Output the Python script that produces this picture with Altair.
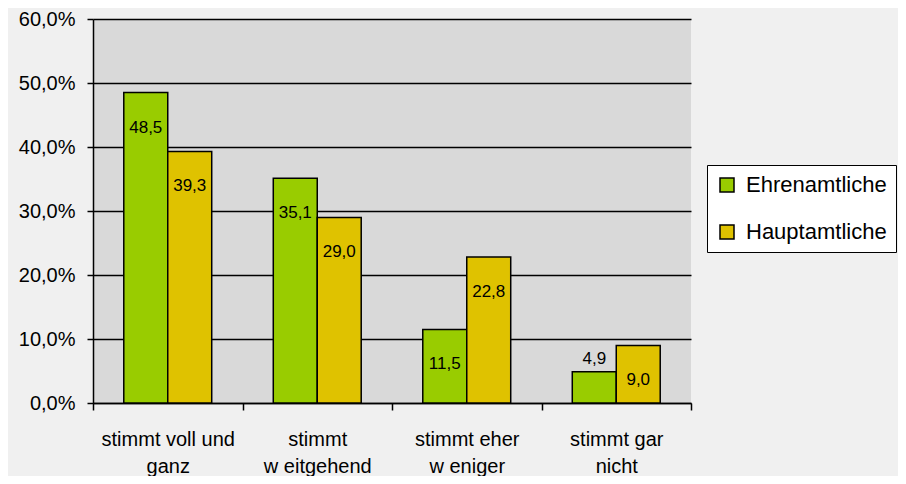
import altair as alt
import pandas as pd

categories = ["stimmt voll und|ganz", "stimmt|w eitgehend", "stimmt eher|w eniger", "stimmt gar|nicht"]
series = ["Ehrenamtliche", "Hauptamtliche"]
ehrenamtliche = [48.5, 35.1, 11.5, 4.9]
hauptamtliche = [39.3, 29.0, 22.8, 9.0]
y_ticks = [0, 10, 20, 30, 40, 50, 60]
colors = ["#99cc00", "#dfc200"]

rows = []
for c, e, h in zip(categories, ehrenamtliche, hauptamtliche):
    rows.append({"cat": c, "series": series[0], "value": e})
    rows.append({"cat": c, "series": series[1], "value": h})
df = pd.DataFrame(rows)

FONT = "Liberation Sans"

base = alt.Chart(df).encode(
    x=alt.X(
        "cat:N",
        sort=categories,
        scale=alt.Scale(paddingInner=0, paddingOuter=0),
        axis=alt.Axis(
            title=None,
            labelExpr="split(datum.label, '|')",
            tickBand="extent",
            tickSize=7,
            tickWidth=1.5,
            tickColor="black",
            domainColor="black",
            domainWidth=1.5,
            labelFont=FONT,
            labelFontSize=20,
            labelColor="black",
            labelPadding=19,
            labelLineHeight=27,
            labelAngle=0,
            grid=False,
        ),
    ),
    xOffset=alt.XOffset(
        "series:N", sort=series, scale=alt.Scale(paddingInner=0, paddingOuter=0.7)
    ),
    y=alt.Y(
        "value:Q",
        scale=alt.Scale(domain=[0, 60], nice=False),
        axis=alt.Axis(
            title=None,
            values=y_ticks,
            labelExpr="replace(format(datum.value, '.1f'), '.', ',') + '%'",
            tickSize=6,
            tickWidth=1.5,
            tickColor="black",
            labelPadding=12,
            grid=True,
            gridColor="black",
            gridWidth=1.5,
            gridOpacity=1,
            domainColor="black",
            domainWidth=1.5,
            labelFont=FONT,
            labelFontSize=20,
            labelColor="black",
        ),
    ),
)

bars = base.mark_bar(stroke="black", strokeWidth=1.5).encode(
    color=alt.Color(
        "series:N",
        scale=alt.Scale(domain=series, range=colors),
        legend=alt.Legend(
            title=None,
            orient="none",
            legendX=614,
            legendY=146,
            fillColor="white",
            strokeColor="black",
            padding=9,
            symbolType="square",
            symbolSize=196,
            symbolStrokeColor="black",
            symbolStrokeWidth=1.5,
            symbolOpacity=1,
            labelFont=FONT,
            labelFontSize=22,
            labelColor="black",
            labelOffset=8,
            rowPadding=25,
        ),
    )
)

label_calc = "replace(format(datum.value, '.1f'), '.', ',')"

inside = base.transform_filter("datum.value >= 5").transform_calculate(
    lab=label_calc
).mark_text(dy=35, font=FONT, fontSize=17, color="black", baseline="middle").encode(
    text="lab:N"
)

outside = base.transform_filter("datum.value < 5").transform_calculate(
    lab=label_calc
).mark_text(dy=-13, font=FONT, fontSize=17, color="black", baseline="middle").encode(
    text="lab:N"
)

chart = (
    alt.layer(bars, inside, outside)
    .properties(
        width=598,
        height=384,
        autosize=alt.AutoSizeParams(type="none"),
        padding={"left": 85, "top": 11, "right": 207, "bottom": 73},
        background="#f0f0f0",
    )
    .configure_view(fill="#d9d9d9", strokeWidth=0)
)

chart.save("out.html", embed_options={"renderer": "svg", "actions": False})
